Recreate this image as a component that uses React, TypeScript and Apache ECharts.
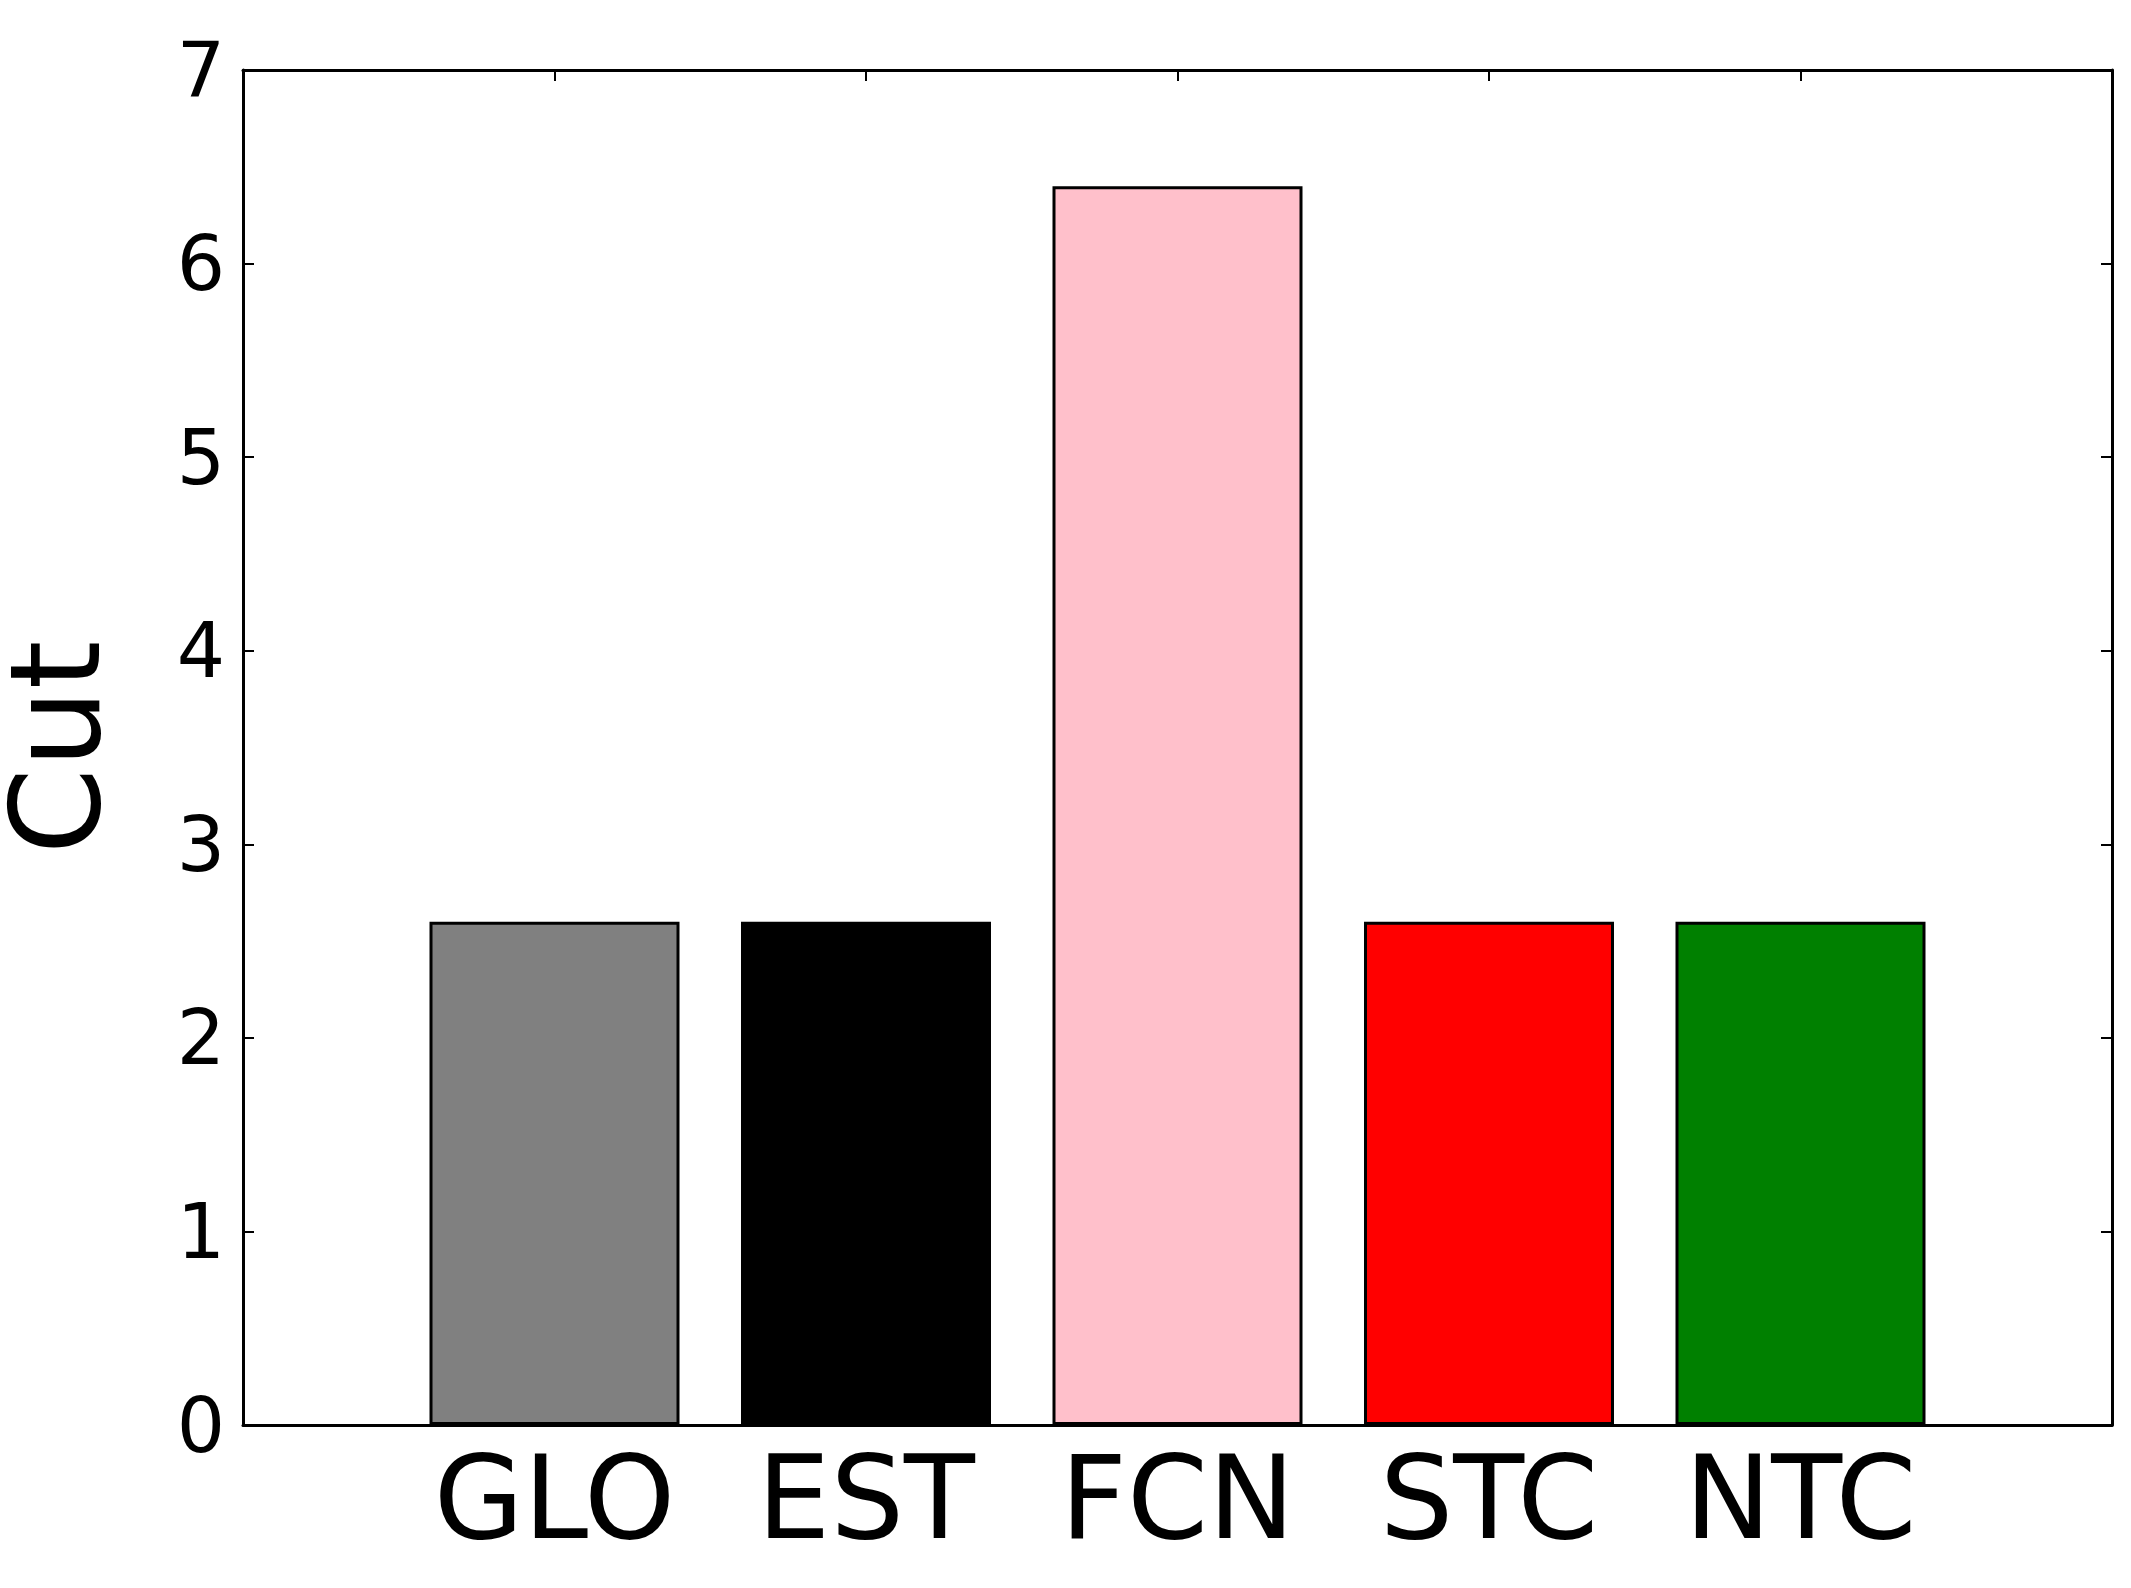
import React, { useEffect, useRef } from 'react';
import * as echarts from 'echarts';

const categories = ['GLO', 'EST', 'FCN', 'STC', 'NTC'];
const values = [2.6, 2.6, 6.4, 2.6, 2.6];
const colors = ['#808080', '#000000', '#ffc0cb', '#ff0000', '#008000'];

const App: React.FC = () => {
    const chartRef = useRef<HTMLDivElement>(null);

    useEffect(() => {
        document.body.style.margin = '0';
        const chartDom = chartRef.current!;
        const myChart = echarts.init(chartDom, undefined, { renderer: 'svg' });
        const font = 'DejaVu Sans';
        const frame = { show: true, onZero: false, lineStyle: { color: '#000', width: 3 } };
        const ticks = { show: true, inside: true, length: 11, lineStyle: { color: '#000', width: 2 } };

        const option: any = {
            animation: false,
            backgroundColor: '#fff',
            grid: { left: 243, right: 19, top: 70, bottom: 163, outerBoundsMode: 'none', containLabel: false },
            xAxis: [
                {
                    type: 'value', min: 0, max: 6, interval: 1, position: 'bottom',
                    axisLine: frame, axisTick: ticks, splitLine: { show: false },
                    axisLabel: {
                        fontFamily: font, fontSize: 116, color: '#000', margin: 14,
                        formatter: (v: number) => categories[v - 1] ?? '',
                    },
                },
                {
                    type: 'value', min: 0, max: 6, interval: 1, position: 'top',
                    axisLine: frame, axisTick: ticks, splitLine: { show: false },
                    axisLabel: { show: false },
                },
            ],
            yAxis: [
                {
                    type: 'value', min: 0, max: 7, interval: 1, position: 'left',
                    axisLine: frame, axisTick: ticks, splitLine: { show: false },
                    axisLabel: { fontFamily: font, fontSize: 76, color: '#000', margin: 18 },
                    name: 'Cut', nameLocation: 'middle', nameGap: 125,
                    nameTextStyle: { fontFamily: font, fontSize: 124, color: '#000' },
                },
                {
                    type: 'value', min: 0, max: 7, interval: 1, position: 'right',
                    axisLine: frame, axisTick: ticks, splitLine: { show: false },
                    axisLabel: { show: false },
                },
            ],
            series: [
                {
                    type: 'bar',
                    barWidth: 250,
                    data: values.map((v, i) => ({
                        value: [i + 1, v],
                        itemStyle: { color: colors[i], borderColor: '#000', borderWidth: 3 },
                    })),
                },
            ],
        };

        myChart.setOption(option);
        return () => {
            myChart.dispose();
        };
    }, []);

    return <div ref={chartRef} style={{ width: 2131, height: 1588 }} />;
};

export default App;
